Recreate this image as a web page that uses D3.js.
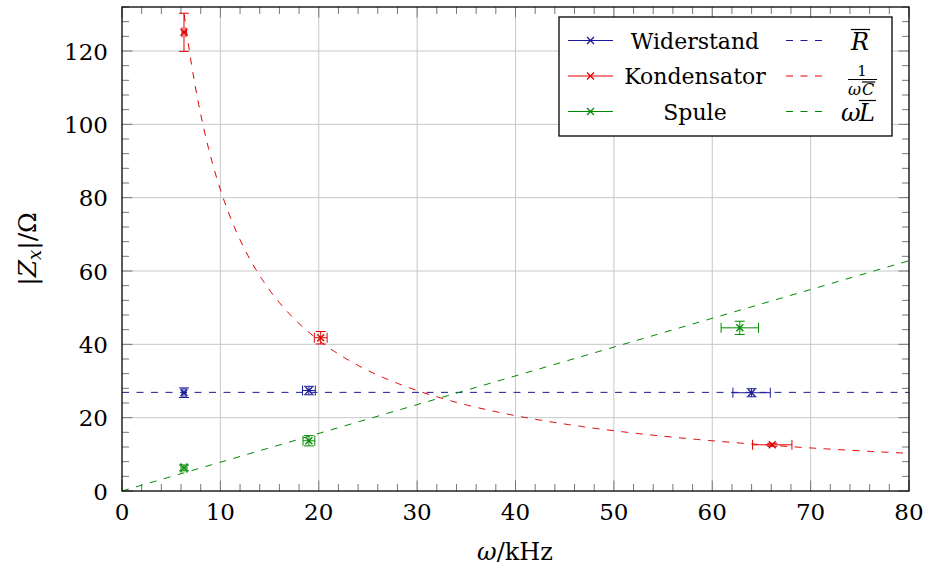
<!DOCTYPE html>
<html>
<head>
<meta charset="utf-8">
<script src="https://cdn.jsdelivr.net/npm/d3@7"></script>
<style>
  body { margin: 0; background: white; }
</style>
</head>
<body>
<script>
const omegaR = [6.3, 19.0, 64.0];
const zR = [26.8, 27.4, 26.8];
const errXR = [0.2, 0.65, 1.9];
const errYR = [1.3, 1.15, 1.1];

const omegaC = [6.3, 20.2, 66.1];
const zC = [125.1, 41.8, 12.6];
const errXC = [0.2, 0.65, 2.0];
const errYC = [5.2, 1.7, 0.4];

const omegaL = [6.3, 19.0, 62.8];
const zL = [6.3, 13.7, 44.5];
const errXL = [0.3, 0.6, 1.9];
const errYL = [0.8, 1.4, 1.8];

// fitted means
const Rmean = 26.9;
const Cinv = 822; // 1/C in model 1/(omega*C)
const Lmean = 0.785;

const xTicks = [0, 10, 20, 30, 40, 50, 60, 70, 80];
const yTicks = [0, 20, 40, 60, 80, 100, 120];

const colors = { R: '#1a1a99', C: '#e00000', L: '#008a00' };

const W = 928, H = 573;
const svg = d3.select('body').append('svg').attr('width', W).attr('height', H)
  .attr('font-family', "'DejaVu Serif', 'Liberation Serif', serif");

const x = d3.scaleLinear([0, 80], [122, 909]);
const y = d3.scaleLinear([0, 132], [491, 7]);

// grid
svg.append('g').selectAll('line').data(xTicks.slice(1, -1)).join('line')
  .attr('x1', d => x(d)).attr('x2', d => x(d)).attr('y1', y(0)).attr('y2', y(132))
  .attr('stroke', '#c8c8c8').attr('stroke-width', 1);
svg.append('g').selectAll('line').data(yTicks.slice(1)).join('line')
  .attr('x1', x(0)).attr('x2', x(80)).attr('y1', d => y(d)).attr('y2', d => y(d))
  .attr('stroke', '#c8c8c8').attr('stroke-width', 1);

// ticks inside on all four sides
const xMinor = d3.range(0, 81, 2).filter(d => d % 10 !== 0);
const yMinor = d3.range(0, 133, 4).filter(d => d % 20 !== 0);
const tk = svg.append('g').attr('stroke', '#777').attr('stroke-width', 1);
function xt(vals, len) {
  vals.forEach(v => {
    tk.append('line').attr('x1', x(v)).attr('x2', x(v)).attr('y1', y(0)).attr('y2', y(0) - len);
    tk.append('line').attr('x1', x(v)).attr('x2', x(v)).attr('y1', y(132)).attr('y2', y(132) + len);
  });
}
function yt(vals, len) {
  vals.forEach(v => {
    tk.append('line').attr('y1', y(v)).attr('y2', y(v)).attr('x1', x(0)).attr('x2', x(0) + len);
    tk.append('line').attr('y1', y(v)).attr('y2', y(v)).attr('x1', x(80)).attr('x2', x(80) - len);
  });
}
xt(xTicks, 10.5); xt(xMinor, 7);
yt(yTicks, 10.5); yt(yMinor, 7);

// clip to plot area
svg.append('clipPath').attr('id', 'clip').append('rect')
  .attr('x', x(0)).attr('y', y(132)).attr('width', x(80) - x(0)).attr('height', y(0) - y(132));
const plot = svg.append('g').attr('clip-path', 'url(#clip)');

// model curves
const line = d3.line().x(d => x(d[0])).y(d => y(d[1]));
const dash = '7 7.5';
plot.append('path').attr('d', line([[0, Rmean], [80, Rmean]]))
  .attr('fill', 'none').attr('stroke', colors.R).attr('stroke-width', 1).attr('stroke-dasharray', dash);
const cPts = d3.range(5.8, 80.01, 0.2).map(w => [w, Cinv / w]);
plot.append('path').attr('d', line(cPts))
  .attr('fill', 'none').attr('stroke', colors.C).attr('stroke-width', 1).attr('stroke-dasharray', dash);
plot.append('path').attr('d', line([[0, 0], [80, 80 * Lmean]]))
  .attr('fill', 'none').attr('stroke', colors.L).attr('stroke-width', 1).attr('stroke-dasharray', dash);

// error bars + markers
const cap = 5;
function series(ws, zs, ex, ey, col) {
  const g = plot.append('g').attr('stroke', col).attr('stroke-width', 1).attr('fill', 'none');
  ws.forEach((w, i) => {
    const cx = x(w), cy = y(zs[i]);
    const x0 = x(w - ex[i]), x1 = x(w + ex[i]);
    const y0 = y(zs[i] - ey[i]), y1 = y(zs[i] + ey[i]);
    g.append('line').attr('x1', x0).attr('x2', x1).attr('y1', cy).attr('y2', cy);
    g.append('line').attr('x1', x0).attr('x2', x0).attr('y1', cy - cap).attr('y2', cy + cap);
    g.append('line').attr('x1', x1).attr('x2', x1).attr('y1', cy - cap).attr('y2', cy + cap);
    g.append('line').attr('x1', cx).attr('x2', cx).attr('y1', y0).attr('y2', y1);
    g.append('line').attr('x1', cx - cap).attr('x2', cx + cap).attr('y1', y0).attr('y2', y0);
    g.append('line').attr('x1', cx - cap).attr('x2', cx + cap).attr('y1', y1).attr('y2', y1);
    marker(g, cx, cy);
  });
}
function marker(g, cx, cy) {
  const s = 3.5;
  g.append('path').attr('d', `M${cx - s},${cy - s}L${cx + s},${cy + s}M${cx - s},${cy + s}L${cx + s},${cy - s}`)
    .attr('stroke-width', 1.3);
}
series(omegaR, zR, errXR, errYR, colors.R);
series(omegaC, zC, errXC, errYC, colors.C);
series(omegaL, zL, errXL, errYL, colors.L);

// frame
svg.append('rect').attr('x', x(0)).attr('y', y(132)).attr('width', x(80) - x(0)).attr('height', y(0) - y(132))
  .attr('fill', 'none').attr('stroke', 'black').attr('stroke-width', 1.3);

// tick labels
svg.append('g').selectAll('text').data(xTicks).join('text')
  .attr('x', d => x(d)).attr('y', 520).attr('text-anchor', 'middle')
  .attr('font-size', 23).text(d => d);
svg.append('g').selectAll('text').data(yTicks).join('text')
  .attr('x', 108).attr('y', d => y(d) + 8.5).attr('text-anchor', 'end')
  .attr('font-size', 23).text(d => d);

// axis labels
const xl = svg.append('text').attr('x', 515).attr('y', 560).attr('text-anchor', 'middle').attr('font-size', 24);
xl.append('tspan').attr('font-style', 'italic').text('ω');
xl.append('tspan').text('/kHz');

const yl = svg.append('text').attr('transform', 'translate(36,249) rotate(-90)')
  .attr('text-anchor', 'middle').attr('font-size', 25);
yl.append('tspan').text('|');
yl.append('tspan').attr('font-style', 'italic').text('Z');
yl.append('tspan').attr('font-style', 'italic').attr('font-size', 18).attr('dy', 5).text('x');
yl.append('tspan').attr('dy', -5).text('|/Ω');

// legend
const leg = svg.append('g');
leg.append('rect').attr('x', 559).attr('y', 17).attr('width', 333).attr('height', 119)
  .attr('fill', 'white').attr('stroke', 'black').attr('stroke-width', 1.3);
const legNames = ['Widerstand', 'Kondensator', 'Spule'];
const legCols = [colors.R, colors.C, colors.L];
const rowY = [40.5, 76, 111.5];
legNames.forEach((n, i) => {
  const g = leg.append('g').attr('stroke', legCols[i]).attr('fill', 'none');
  g.append('line').attr('x1', 568).attr('x2', 613).attr('y1', rowY[i]).attr('y2', rowY[i]).attr('stroke-width', 1);
  marker(g, 590.5, rowY[i]);
  leg.append('line').attr('x1', 786).attr('x2', 826).attr('y1', rowY[i]).attr('y2', rowY[i])
    .attr('stroke', legCols[i]).attr('stroke-width', 1).attr('stroke-dasharray', dash);
  leg.append('text').attr('x', 695).attr('y', rowY[i] + 8).attr('text-anchor', 'middle')
    .attr('font-size', 22).text(n);
});

function overline(t, pad) {
  const b = t.node().getBBox();
  leg.append('line').attr('x1', b.x + pad).attr('x2', b.x + b.width + 1).attr('y1', b.y + 2).attr('y2', b.y + 2)
    .attr('stroke', 'black').attr('stroke-width', 1.2);
}
// R bar
const rT = leg.append('text').attr('x', 860).attr('y', rowY[0] + 9).attr('text-anchor', 'middle')
  .attr('font-size', 24).attr('font-style', 'italic').text('R');
overline(rT, 1);
// 1 / (omega C bar)
leg.append('text').attr('x', 862).attr('y', 76).attr('text-anchor', 'middle').attr('font-size', 15).text('1');
leg.append('line').attr('x1', 848).attr('x2', 877).attr('y1', 79.5).attr('y2', 79.5).attr('stroke', 'black').attr('stroke-width', 1);
leg.append('text').attr('x', 848).attr('y', 95).attr('font-size', 16).attr('font-style', 'italic').text('ω');
const cT = leg.append('text').attr('x', 862).attr('y', 95).attr('font-size', 16).attr('font-style', 'italic').text('C');
overline(cT, 0);
// omega L bar
leg.append('text').attr('x', 841).attr('y', rowY[2] + 9).attr('font-size', 24).attr('font-style', 'italic').text('ω');
const lT = leg.append('text').attr('x', 859).attr('y', rowY[2] + 9).attr('font-size', 24).attr('font-style', 'italic').text('L');
overline(lT, 1);
</script>
</body>
</html>
